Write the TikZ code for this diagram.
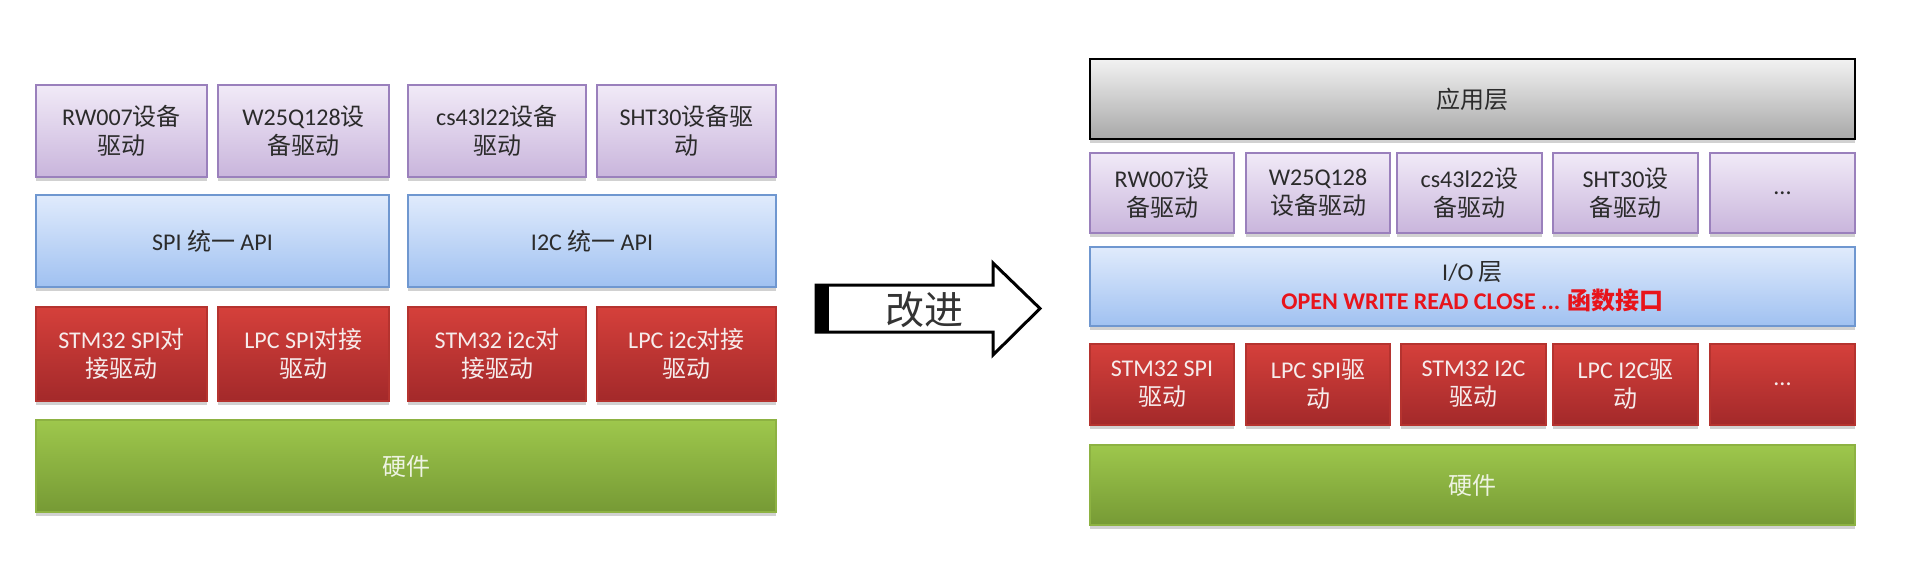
\documentclass[tikz,border=0pt]{standalone}
\usepackage{fontspec}
\setmainfont{Noto Sans CJK SC}
\newfontfamily\lat{Carlito}
\usetikzlibrary{shadows}
\definecolor{purB}{HTML}{9A80BC}
\definecolor{purT}{HTML}{F1EAF7}
\definecolor{purD}{HTML}{C9B5DC}
\definecolor{bluB}{HTML}{6F97D0}
\definecolor{bluT}{HTML}{E0EBFC}
\definecolor{bluD}{HTML}{A0C1F1}
\definecolor{redB}{HTML}{B5332F}
\definecolor{redT}{HTML}{D5403B}
\definecolor{redD}{HTML}{A3292A}
\definecolor{grnB}{HTML}{8DB242}
\definecolor{grnT}{HTML}{9EC74C}
\definecolor{grnD}{HTML}{769A35}
\definecolor{gryT}{HTML}{F2F2F2}
\definecolor{gryD}{HTML}{A8A8A8}
\definecolor{txtD}{HTML}{2B2B2B}
\definecolor{txtR}{HTML}{F6ECEC}
\definecolor{txtG}{HTML}{EEF3E2}
\definecolor{apiR}{HTML}{E8141B}
\definecolor{arrT}{HTML}{333333}
\tikzset{
  box/.style={rectangle, line width=1.3pt, align=center, inner sep=0pt,
    font=\fontsize{24}{29}\selectfont,
    drop shadow={shadow xshift=0pt, shadow yshift=-4pt, opacity=0.18, fill=black}},
  pur/.style={box, draw=purB, top color=purT, bottom color=purD, text=txtD},
  blu/.style={box, draw=bluB, top color=bluT, bottom color=bluD, text=txtD},
  rdb/.style={box, draw=redB, top color=redT, bottom color=redD, text=txtR},
  grn/.style={box, draw=grnB, top color=grnT, bottom color=grnD, text=txtG},
  gry/.style={box, draw=black, line width=2.6pt, top color=gryT, bottom color=gryD, text=txtD},
}
\begin{document}
\begin{tikzpicture}[x=1pt,y=-1pt]
\useasboundingbox (0,0) rectangle (1912,564);
% ---------- left stack ----------
\node[pur, minimum width=171pt, minimum height=92pt] (l1) at (121.5,131) {{\lat RW007}设备\\驱动};
\node[pur, minimum width=171pt, minimum height=92pt] (l2) at (303.5,131) {{\lat W25Q128}设\\备驱动};
\node[pur, minimum width=178pt, minimum height=92pt] (l3) at (497,131) {{\lat cs43l22}设备\\驱动};
\node[pur, minimum width=179pt, minimum height=92pt] (l4) at (686.5,131) {{\lat SHT30}设备驱\\动};
\node[blu, minimum width=353pt, minimum height=92pt] (b1) at (212.5,241) {{\lat SPI} 统一 {\lat API}};
\node[blu, minimum width=368pt, minimum height=92pt] (b2) at (592,241) {{\lat I2C} 统一 {\lat API}};
\node[rdb, minimum width=171pt, minimum height=94pt] (r1) at (121.5,354) {{\lat STM32 SPI}对\\接驱动};
\node[rdb, minimum width=171pt, minimum height=94pt] (r2) at (303.5,354) {{\lat LPC SPI}对接\\驱动};
\node[rdb, minimum width=178pt, minimum height=94pt] (r3) at (497,354) {{\lat STM32 i2c}对\\接驱动};
\node[rdb, minimum width=179pt, minimum height=94pt] (r4) at (686.5,354) {{\lat LPC i2c}对接\\驱动};
\node[grn, minimum width=740pt, minimum height=92pt] (g1) at (406,466) {硬件};
% ---------- arrow ----------
\draw[line width=3pt, fill=white, line join=miter]
  (816,285) -- (993,285) -- (993,263) -- (1040,308.5) -- (993,355) -- (993,332) -- (816,332) -- cycle;
\fill[black] (815,284) rectangle (829,333);
\node[text=arrT, font=\fontsize{39}{39}\selectfont, inner sep=0pt] (imp) at (924,310) {改进};
% ---------- right stack ----------
\node[gry, minimum width=765pt, minimum height=80pt] (app) at (1472.5,99) {应用层};
\node[pur, minimum width=144pt, minimum height=80pt] (p1) at (1162,193) {{\lat RW007}设\\备驱动};
\node[pur, minimum width=144pt, minimum height=80pt] (p2) at (1318,193) {{\lat W25Q128}\\设备驱动};
\node[pur, minimum width=145pt, minimum height=80pt] (p3) at (1469.5,193) {{\lat cs43l22}设\\备驱动};
\node[pur, minimum width=145pt, minimum height=80pt] (p4) at (1625.5,193) {{\lat SHT30}设\\备驱动};
\node[pur, minimum width=145pt, minimum height=80pt] (p5) at (1782.5,193) {{\lat ...}};
\node[blu, minimum width=765pt, minimum height=79pt] (io) at (1472.5,286.5)
  {{\lat I/O} 层\\{\color{apiR}\bfseries{\lat\bfseries OPEN WRITE READ CLOSE ...} 函数接口}};
\node[rdb, minimum width=144pt, minimum height=81pt] (q1) at (1162,384.5) {{\lat STM32 SPI}\\驱动};
\node[rdb, minimum width=144pt, minimum height=81pt] (q2) at (1318,384.5) {{\lat LPC SPI}驱\\动};
\node[rdb, minimum width=145pt, minimum height=81pt] (q3) at (1473.5,384.5) {{\lat STM32 I2C}\\驱动};
\node[rdb, minimum width=145pt, minimum height=81pt] (q4) at (1625.5,384.5) {{\lat LPC I2C}驱\\动};
\node[rdb, minimum width=145pt, minimum height=81pt] (q5) at (1782.5,384.5) {{\lat ...}};
\node[grn, minimum width=765pt, minimum height=80pt] (g2) at (1472.5,485) {硬件};
\end{tikzpicture}
\end{document}
